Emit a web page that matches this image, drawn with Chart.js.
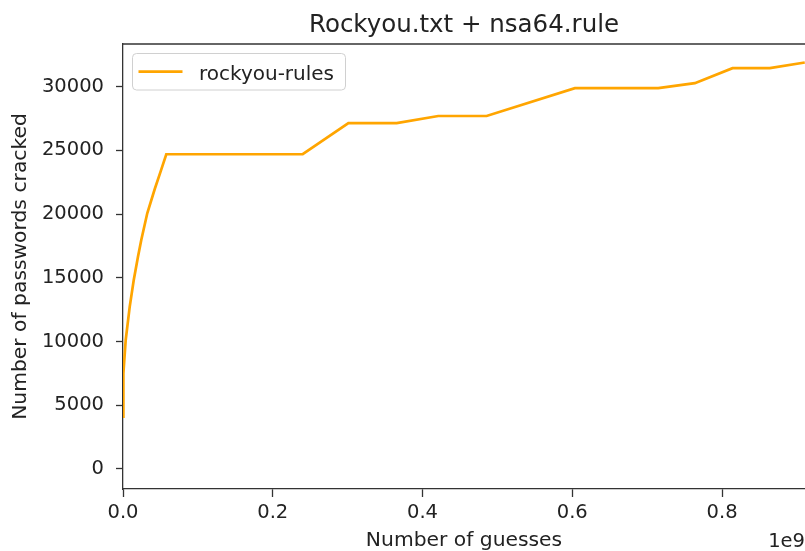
<!DOCTYPE html>
<html>
<head>
<meta charset="utf-8">
<title>Rockyou.txt + nsa64.rule</title>
<script src="https://cdn.jsdelivr.net/npm/chart.js@4/dist/chart.umd.min.js"></script>
<style>
  html, body { margin: 0; padding: 0; background: #fff; overflow: hidden; }
  #wrap { position: relative; width: 805px; height: 551px; }
</style>
</head>
<body>
<div id="wrap"><canvas id="chart" width="805" height="551"></canvas></div>
<script>
/* values */
const seriesLabel = 'rockyou-rules';
const guesses = [0, 0.0005e9, 0.0036e9, 0.0089e9, 0.0143e9, 0.0200e9, 0.0244e9, 0.0324e9, 0.0423e9, 0.0503e9, 0.0578e9,
                 0.240e9, 0.301e9, 0.3655e9, 0.421e9, 0.4856e9, 0.6035e9, 0.7148e9, 0.7637e9, 0.814e9, 0.8638e9, 0.9105e9];
const cracked = [4100, 7500, 10100, 12700, 14800, 16650, 17960, 20060, 21950, 23350, 24700,
                 24700, 27150, 27150, 27700, 27700, 29890, 29890, 30280, 31460, 31460, 31900];
const xTicks = [0, 0.2e9, 0.4e9, 0.6e9, 0.8e9];
const yTicks = [0, 5000, 10000, 15000, 20000, 25000, 30000];

const FONT = "'DejaVu Sans', sans-serif";
const INK = '#222';

/* title, top spine, legend box and the 1e9 offset text */
const decor = {
  id: 'decor',
  afterDraw(chart) {
    const { ctx, chartArea: a } = chart;
    ctx.save();
    // top spine
    ctx.strokeStyle = '#333'; ctx.lineWidth = 1.3;
    ctx.beginPath(); ctx.moveTo(a.left, a.top); ctx.lineTo(a.right, a.top); ctx.stroke();
    // title
    ctx.fillStyle = INK; ctx.font = '24.5px ' + FONT;
    ctx.textAlign = 'center'; ctx.textBaseline = 'alphabetic';
    ctx.fillText('Rockyou.txt + nsa64.rule', (a.left + a.right) / 2, 32);
    // legend
    const ds = chart.data.datasets[0];
    ctx.beginPath();
    ctx.roundRect(132.5, 53.5, 213, 36.5, 4);
    ctx.fillStyle = 'rgba(255,255,255,0.8)'; ctx.fill();
    ctx.strokeStyle = '#d0d0d0'; ctx.lineWidth = 1; ctx.stroke();
    ctx.strokeStyle = ds.borderColor; ctx.lineWidth = ds.borderWidth;
    ctx.beginPath(); ctx.moveTo(138.5, 71.7); ctx.lineTo(182.5, 71.7); ctx.stroke();
    ctx.fillStyle = INK; ctx.font = '20px ' + FONT; ctx.textAlign = 'left';
    ctx.fillText(ds.label, 199, 79.5);
    // offset text
    ctx.font = '19.5px ' + FONT; ctx.textAlign = 'right';
    ctx.fillText('1e9', 805, 546.5);
    ctx.restore();
  }
};

const ctx = document.getElementById('chart');
new Chart(ctx, {
  type: 'line',
  data: {
    datasets: [{
      label: seriesLabel,
      data: guesses.map((g, i) => ({ x: g, y: cracked[i] })),
      borderColor: '#ffa500',
      borderWidth: 2.7,
      pointRadius: 0,
      tension: 0,
      fill: false
    }]
  },
  options: {
    responsive: false,
    animation: false,
    events: [],
    layout: { padding: { top: 44, right: 0, bottom: 0, left: 0 } },
    plugins: { legend: { display: false }, title: { display: false }, tooltip: { enabled: false } },
    scales: {
      x: {
        type: 'linear', min: 0, max: 0.9108e9,
        afterBuildTicks: s => { s.ticks = xTicks.map(v => ({ value: v })); },
        afterFit: s => { s.height = 62; },
        grid: { drawOnChartArea: false, drawTicks: true, tickLength: 8, tickColor: '#333', tickWidth: 1.3 },
        border: { display: true, color: '#333', width: 1.3 },
        ticks: { color: INK, font: { family: FONT, size: 19.5 }, padding: 4, maxRotation: 0,
                 callback: v => (v / 1e9).toFixed(1) },
        title: { display: true, text: 'Number of guesses', color: INK,
                 font: { family: FONT, size: 20.3, lineHeight: 1 }, padding: 0 }
      },
      y: {
        type: 'linear', min: -1585, max: 33355,
        afterBuildTicks: s => { s.ticks = yTicks.map(v => ({ value: v })); },
        afterFit: s => { s.width = 123; },
        grid: { drawOnChartArea: false, drawTicks: true, tickLength: 7, tickColor: '#333', tickWidth: 1.3 },
        border: { display: true, color: '#333', width: 1.3 },
        ticks: { color: INK, font: { family: FONT, size: 19.5 }, padding: 12,
                 callback: v => String(v) },
        title: { display: true, text: 'Number of passwords cracked', color: INK,
                 font: { family: FONT, size: 20.3, lineHeight: 1 }, padding: { top: 11 } }
      }
    }
  },
  plugins: [decor]
});
</script>
</body>
</html>
